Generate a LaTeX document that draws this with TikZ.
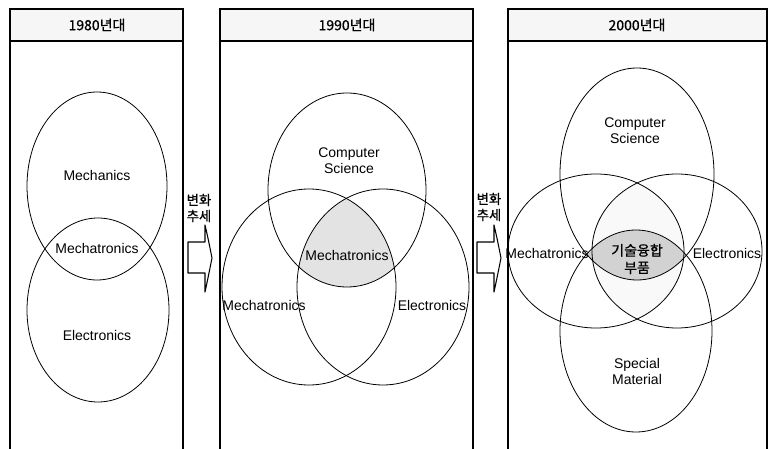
\documentclass[tikz,border=0pt]{standalone}
\usepackage{fontspec}
\setmainfont{Liberation Sans}
\newfontfamily\kr[FakeBold=0.8]{Noto Sans CJK KR}
\begin{document}
\begin{tikzpicture}[x=0.75pt,y=-0.75pt,
  panel/.style={line width=1.1pt},
  hdr/.style={fill=gray!7},
  venn/.style={line width=0.6pt},
  lbl/.style={font=\fontsize{10.5pt}{12pt}\selectfont, align=center, inner sep=0pt},
  hlbl/.style={font=\kr\fontsize{10.5pt}{12pt}\selectfont, inner sep=0pt},
  trend/.style={font=\kr\fontsize{10pt}{12pt}\selectfont, align=center, inner sep=0pt},
  blockarrow/.style={fill=white, line width=0.8pt, line join=round}]
\useasboundingbox (0,0) rectangle (772,449);
\fill[white] (0,0) rectangle (772,449);

% ---------- panels ----------
\foreach \l/\r in {10/183, 220/473, 508/767}{
  \fill[hdr] (\l,9) rectangle (\r,41);
  \draw[panel] (\l,449) -- (\l,9) -- (\r,9) -- (\r,449);
  \draw[panel] (\l,41) -- (\r,41);
}
\node[hlbl] (h1) at (97,25) {1980년대};
\node[hlbl] (h2) at (347,25) {1990년대};
\node[hlbl] (h3) at (637,25) {2000년대};

% ---------- panel 1 ----------
\draw[venn] (97,186) ellipse [x radius=70, y radius=94];
\draw[venn] (98,310) ellipse [x radius=71, y radius=92];
\node[lbl] (p1a) at (97,175) {Mechanics};
\node[lbl] (p1b) at (97,248) {Mechatronics};
\node[lbl] (p1c) at (97,335) {Electronics};

% ---------- panel 2 ----------
\begin{scope}
  \clip (347,190) ellipse [x radius=79, y radius=97];
  \clip (309,287) ellipse [x radius=87, y radius=98];
  \fill[gray!22] (383,287) ellipse [x radius=86, y radius=98];
\end{scope}
\draw[venn] (347,190) ellipse [x radius=79, y radius=97];
\draw[venn] (309,287) ellipse [x radius=87, y radius=98];
\draw[venn] (383,287) ellipse [x radius=86, y radius=98];
\node[lbl] (p2a) at (349,161) {Computer\\Science};
\node[lbl] (p2b) at (347,255) {Mechatronics};
\node[lbl] (p2c) at (264,305) {Mechatronics};
\node[lbl] (p2d) at (432,305) {Electronics};

% ---------- panel 3 ----------
\begin{scope}
  \clip (596,251) ellipse [x radius=88, y radius=77];
  \fill[gray!5] (677,251) ellipse [x radius=85, y radius=77];
\end{scope}
\begin{scope}
  \clip (637,174) ellipse [x radius=77, y radius=106];
  \fill[gray!35] (636,331) ellipse [x radius=76, y radius=101];
\end{scope}
\draw[venn] (637,174) ellipse [x radius=77, y radius=106];
\draw[venn] (636,331) ellipse [x radius=76, y radius=101];
\draw[venn] (596,251) ellipse [x radius=88, y radius=77];
\draw[venn] (677,251) ellipse [x radius=85, y radius=77];
\node[lbl] (p3a) at (635,131) {Computer\\Science};
\node[lbl] (p3b) at (637,371) {Special\\Material};
\node[lbl] (p3c) at (547,253) {Mechatronics};
\node[lbl] (p3d) at (727,253) {Electronics};
\node[trend, font=\kr\fontsize{10.5pt}{13pt}\selectfont] (p3e) at (637,259) {기술융합\\부품};

% ---------- trend arrows ----------
\node[trend] (t1) at (199,208) {변화\\추세};
\node[trend] (t2) at (489,207) {변화\\추세};
\draw[blockarrow] (188,242) -- (205,242) -- (205,225) .. controls (208,238) .. (212,258)
  .. controls (208,278) .. (205,292) -- (205,273) -- (188,273) -- cycle;
\draw[blockarrow] (477,242) -- (494,242) -- (494,225) .. controls (497,238) .. (501,258)
  .. controls (497,278) .. (494,292) -- (494,273) -- (477,273) -- cycle;
\end{tikzpicture}
\end{document}
